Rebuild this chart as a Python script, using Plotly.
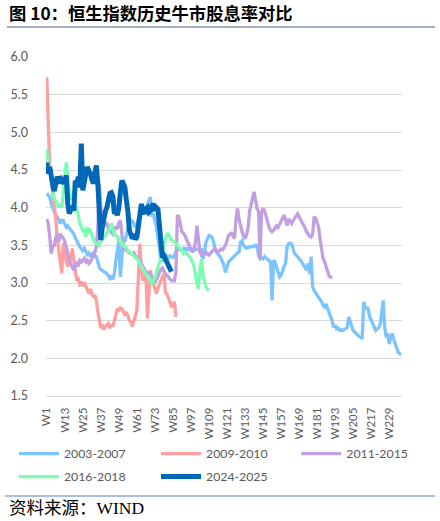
import plotly.graph_objects as go

# weekly x categories W1..W237, labelled every 12 weeks
weeks = [f"W{i}" for i in range(1, 238)]
tick_weeks = weeks[::12]

# HSI dividend yield (%) in past bull markets, by week since start
dy_2003_2007 = [
    4.19, 4.16, 4.14, 4.05, 4.00, 3.96, 3.90, 3.88, 3.82, 3.79,
    3.83, 3.83, 3.78, 3.74, 3.76, 3.72, 3.70, 3.68, 3.65, 3.60,
    3.55, 3.52, 3.48, 3.45, 3.43, 3.46, 3.42, 3.38, 3.40, 3.35,
    3.38, 3.40, 3.36, 3.35, 3.28, 3.20, 3.18, 3.16, 3.15, 3.14,
    3.12, 3.10, 3.06, 3.08, 3.05, 3.12, 3.30, 3.45, 3.57, 3.08,
    3.30, 3.57, 3.55, 3.65, 3.75, 3.80, 3.83, 3.82, 3.78, 3.74,
    3.78, 3.83, 3.90, 3.96, 3.98, 4.00, 3.98, 4.05, 4.10, 4.14,
    3.88, 3.92, 3.85, 3.74, 3.61, 3.43, 3.30, 3.30, 3.35, 3.39,
    3.35, 3.33, 3.36, 3.35, 3.34, 3.37, 3.42, 3.46, 3.44, 3.45,
    3.43, 3.46, 3.46, 3.44, 3.46, 3.44, 3.45, 3.43, 3.46, 3.44,
    3.45, 3.45, 3.43, 3.44, 3.32, 3.40, 3.54, 3.60, 3.63, 3.62,
    3.61, 3.55, 3.45, 3.41, 3.39, 3.36, 3.33, 3.28, 3.23, 3.14,
    3.20, 3.28, 3.30, 3.32, 3.34, 3.37, 3.38, 3.40, 3.41, 3.54,
    3.56, 3.50, 3.48, 3.46, 3.47, 3.48, 3.48, 3.49, 3.48, 3.50,
    3.50, 3.37, 3.32, 3.33, 3.32, 3.35, 3.33, 3.31, 3.30, 3.28,
    2.77, 3.30, 3.28, 3.21, 3.15, 3.08, 3.10, 3.17, 3.22, 3.26,
    3.48, 3.52, 3.53, 3.52, 3.43, 3.39, 3.37, 3.35, 3.33, 3.30,
    3.27, 3.23, 3.21, 3.17, 3.26, 3.12, 3.35, 2.95, 2.90, 2.86,
    2.84, 2.81, 2.78, 2.75, 2.70, 2.68, 2.72, 2.65, 2.59, 2.55,
    2.50, 2.41, 2.44, 2.39, 2.40, 2.37, 2.38, 2.37, 2.38, 2.39,
    2.41, 2.55, 2.50, 2.42, 2.37, 2.35, 2.33, 2.30, 2.29, 2.28,
    2.26, 2.75, 2.66, 2.67, 2.66, 2.55, 2.50, 2.46, 2.42, 2.37,
    2.39, 2.41, 2.45, 2.60, 2.77, 2.41, 2.28, 2.33, 2.19, 2.28,
    2.33, 2.25, 2.19, 2.14, 2.08, 2.06, 2.06,
]
dy_2009_2010 = [
    5.73, 5.00, 4.55, 4.35, 4.18, 4.05, 3.85, 3.60, 3.40, 3.28,
    3.13, 3.53, 3.45, 3.28, 3.22, 3.35, 3.30, 3.46, 3.30, 3.15,
    3.03, 3.05, 2.98, 3.00, 2.96, 3.01, 2.95, 2.90, 2.86, 2.92,
    2.85, 2.81, 2.84, 2.77, 2.62, 2.50, 2.40, 2.45, 2.38, 2.42,
    2.44, 2.46, 2.40, 2.45, 2.42, 2.50, 2.58, 2.66, 2.64, 2.67,
    2.66, 2.60, 2.57, 2.60, 2.57, 2.50, 2.48, 2.42, 2.50, 2.55,
    2.64, 3.08, 3.52, 3.17, 3.03, 3.10, 3.12, 2.53, 2.90, 3.17,
    3.05, 2.99, 2.92, 2.86, 2.93, 2.99, 3.05, 3.08, 3.12, 2.88,
    2.85, 2.81, 2.75, 2.68, 2.72, 2.75, 2.55,
]
dy_2011_2015 = [
    3.85, 3.79, 3.61, 3.39, 3.50, 3.50, 3.60, 3.65, 3.55, 3.65,
    3.62, 3.60, 3.55, 3.48, 3.40, 3.30, 3.25, 3.20, 3.17, 3.22,
    3.26, 3.24, 3.30, 3.28, 3.30, 3.33, 3.28, 3.30, 3.26, 3.28,
    3.32, 3.35, 3.40, 3.48, 3.74, 4.32, 4.00, 3.79, 3.75, 3.80,
    3.79, 3.72, 3.70, 3.68, 3.65, 3.70, 3.75, 3.72, 3.80, 3.83,
    3.60, 3.48, 3.45, 3.43, 3.42, 3.40, 3.39, 3.38, 3.40, 3.36,
    3.35, 3.33, 3.30, 3.25, 3.21, 3.18, 3.15, 3.14, 3.12, 3.12,
    3.08, 3.02, 3.00, 3.05, 3.10, 3.15, 3.18, 3.20, 3.15, 3.12,
    3.10, 3.08, 3.05, 3.03, 3.03, 3.03, 3.15, 3.90, 3.88, 3.80,
    3.68, 3.66, 3.63, 3.58, 3.54, 3.50, 3.46, 3.41, 3.45, 3.54,
    3.76, 3.54, 3.41, 3.37, 3.39, 3.40, 3.41, 3.38, 3.37, 3.40,
    3.42, 3.44, 3.46, 3.43, 3.41, 3.43, 3.45, 3.44, 3.47, 3.50,
    3.56, 3.63, 3.65, 3.66, 3.62, 3.59, 3.85, 3.99, 3.85, 3.75,
    3.68, 3.62, 3.59, 3.64, 3.72, 3.95, 4.05, 4.10, 4.21, 4.10,
    3.99, 3.95, 3.32, 3.94, 3.99, 3.96, 3.88, 3.80, 3.74, 3.70,
    3.68, 3.70, 3.74, 3.76, 3.74, 3.78, 3.83, 3.88, 3.90, 3.84,
    3.76, 3.85, 3.82, 3.79, 3.83, 3.86, 3.90, 3.92, 3.88, 3.83,
    3.80, 3.77, 3.72, 3.68, 3.65, 3.62, 3.61, 3.65, 3.88, 3.86,
    3.80, 3.74, 3.57, 3.42, 3.32, 3.28, 3.21, 3.14, 3.09, 3.08,
    3.07,
]
dy_2016_2018 = [
    4.78, 4.58, 4.52, 4.45, 4.23, 4.12, 4.08, 4.05, 4.00, 4.05,
    4.00, 4.19, 4.45, 4.60, 4.40, 4.19, 4.10, 4.15, 4.20, 4.05,
    3.98, 3.90, 3.79, 3.75, 3.70, 3.72, 3.61, 3.74, 3.68, 3.70,
    3.62, 3.58, 3.54, 3.52, 3.52, 3.50, 3.55, 3.58, 3.61, 3.63,
    3.66, 3.70, 3.72, 3.79, 3.72, 3.65, 3.63, 3.62, 3.58, 3.55,
    3.52, 3.50, 3.48, 3.47, 3.43, 3.42, 3.40, 3.38, 3.36, 3.35,
    3.33, 3.30, 3.25, 3.21, 3.18, 3.15, 3.12, 3.10, 3.08, 3.03,
    2.99, 3.02, 3.08, 3.15, 3.22, 3.26, 3.32, 3.39, 3.52, 3.60,
    3.65, 3.65, 3.60, 3.57, 3.56, 3.55, 3.53, 3.50, 3.48, 3.46,
    3.43, 3.39, 3.41, 3.40, 3.37, 3.35, 3.33, 3.28, 3.23, 3.10,
    3.02, 2.92, 3.19, 3.32, 3.10, 3.02, 2.95, 2.92, 2.90,
]
dy_2024_2025 = [
    4.60, 4.45, 4.54, 4.38, 4.30, 4.22, 4.35, 4.41, 4.36, 4.38,
    4.32, 4.36, 4.34, 4.43, 4.05, 3.92, 3.98, 4.00, 3.96, 4.36,
    4.30, 4.41, 4.27, 4.85, 4.23, 4.40, 4.45, 4.54, 4.50, 4.45,
    4.38, 4.32, 4.45, 4.56, 4.32, 3.90, 3.57, 3.75, 3.88, 3.95,
    4.00, 4.10, 4.19, 4.20, 4.15, 3.92, 3.95, 3.90, 4.00, 4.20,
    4.36, 4.32, 4.27, 4.10, 3.96, 3.70, 3.62, 3.59, 3.65, 3.58,
    3.61, 3.75, 3.88, 4.05, 3.95, 3.92, 3.98, 4.00, 3.94, 3.96,
    4.02, 4.05, 3.96, 4.00, 3.98, 3.74, 3.43, 3.34, 3.36, 3.32,
    3.30, 3.26, 3.20, 3.15,
]

# name, values, colour, width, legend column
series = [
    ("2003-2007", dy_2003_2007, "#7CC4FF", 3.3, "legend"),
    ("2009-2010", dy_2009_2010, "#FF9F9F", 3.3, "legend2"),
    ("2011-2015", dy_2011_2015, "#C29FE2", 3.3, "legend3"),
    ("2016-2018", dy_2016_2018, "#7DFDB3", 3.3, "legend"),
    ("2024-2025", dy_2024_2025, "#0068B8", 5, "legend2"),
]

fig = go.Figure()
for name, vals, color, width, leg in series:
    fig.add_trace(
        go.Scatter(
            name=name,
            x=weeks[: len(vals)],
            y=vals,
            mode="lines",
            line=dict(color=color, width=width),
            legend=leg,
            legendgroup=name,
        )
    )

grey = "#595959"
tick_font = dict(family="Lato, Liberation Sans", size=12.5, color=grey)
legend_style = dict(
    orientation="v",
    xanchor="left",
    yanchor="top",
    y=-0.127,
    traceorder="grouped",
    tracegroupgap=4,
    itemwidth=40,
    bgcolor="rgba(0,0,0,0)",
    font=dict(family="Lato, Liberation Sans", size=12.3, color=grey),
)

fig.update_layout(
    width=440,
    height=521,
    margin=dict(l=46, r=38, t=57, b=125, autoexpand=False),
    paper_bgcolor="white",
    plot_bgcolor="white",
    showlegend=True,
    xaxis=dict(
        type="category",
        categoryorder="array",
        categoryarray=weeks,
        range=[-0.5, len(weeks) - 0.5],
        tickvals=tick_weeks,
        ticktext=tick_weeks,
        tickangle=-90,
        tickfont=dict(family="Lato, Liberation Sans", size=11.5, color=grey),
        showgrid=False,
        showline=True,
        linecolor="#D9D9D9",
        ticks="",
        ticklabelstandoff=6,
        automargin=False,
    ),
    yaxis=dict(
        range=[1.5, 6.0],
        dtick=0.5,
        tickformat=".1f",
        tickfont=tick_font,
        gridcolor="#D9D9D9",
        gridwidth=1,
        zeroline=False,
        showline=False,
        ticks="",
        ticklabelstandoff=17,
        automargin=False,
    ),
    legend=dict(legend_style, x=-0.09),
    legend2=dict(legend_style, x=0.309),
    legend3=dict(legend_style, x=0.703),
)

# title, rules and source note (paper coords: plot spans x 46..402, y 57..396 px)
fig.add_annotation(
    text="<b>图 10：恒生指数历史牛市股息率对比</b>",
    xref="paper", yref="paper", x=-0.11, y=1.13,
    xanchor="left", yanchor="middle", showarrow=False,
    font=dict(family="Noto Sans CJK SC", size=17.3, color="black"),
)
fig.add_shape(
    type="line", xref="paper", yref="paper",
    x0=-0.11, x1=1.093, y0=1.0885, y1=1.0885,
    line=dict(color="#8496B0", width=1.3),
)
fig.add_shape(
    type="line", xref="paper", yref="paper",
    x0=-0.115, x1=1.093, y0=-0.295, y1=-0.295,
    line=dict(color="#8EA9DB", width=1.3),
)
fig.add_annotation(
    text="资料来源：WIND",
    xref="paper", yref="paper", x=-0.11, y=-0.33,
    xanchor="left", yanchor="middle", showarrow=False,
    font=dict(family="Liberation Serif, Noto Sans CJK SC", size=17.5, color="black"),
)

# drop the browser's default 8px body margin so the figure sits at the page corner
fig.write_html(
    "out.html",
    config={"displayModeBar": False},
    post_script="document.body.style.margin='0';",
)
